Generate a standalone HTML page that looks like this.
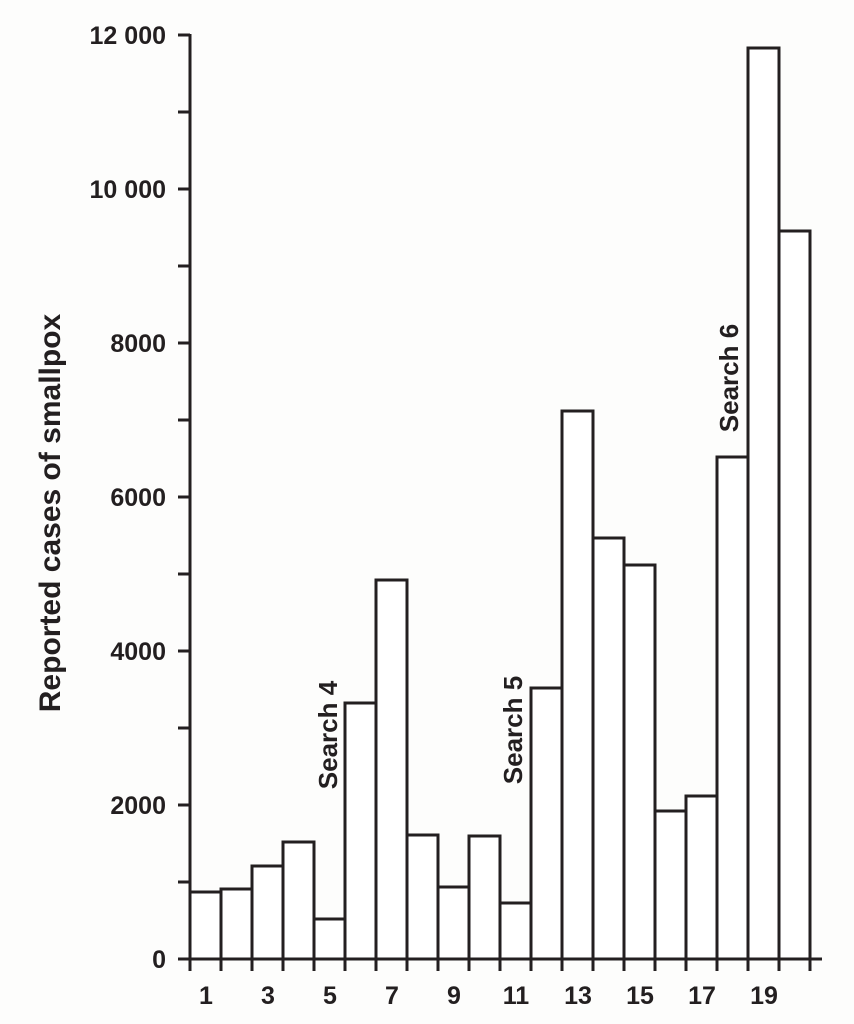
<!DOCTYPE html>
<html><head><meta charset="utf-8"><style>
html,body{margin:0;padding:0;background:#fff;}
svg{display:block;}
text{font-family:"Liberation Sans",sans-serif;fill:#231f20;}
</style></head><body>
<svg width="854" height="1024" viewBox="0 0 854 1024" xmlns="http://www.w3.org/2000/svg">
<rect width="854" height="1024" fill="#fdfdfc"/>
<g stroke="#231f20" stroke-width="3" fill="#fff">
<rect x="190" y="892" width="31" height="67"/>
<rect x="221" y="889" width="31" height="70"/>
<rect x="252" y="866" width="31" height="93"/>
<rect x="283" y="842" width="31" height="117"/>
<rect x="314" y="919" width="31" height="40"/>
<rect x="345" y="703" width="31" height="256"/>
<rect x="376" y="580" width="31" height="379"/>
<rect x="407" y="835" width="31" height="124"/>
<rect x="438" y="887" width="31" height="72"/>
<rect x="469" y="836" width="31" height="123"/>
<rect x="500" y="903" width="31" height="56"/>
<rect x="531" y="688" width="31" height="271"/>
<rect x="562" y="411" width="31" height="548"/>
<rect x="593" y="538" width="31" height="421"/>
<rect x="624" y="565" width="31" height="394"/>
<rect x="655" y="811" width="31" height="148"/>
<rect x="686" y="796" width="31" height="163"/>
<rect x="717" y="457" width="31" height="502"/>
<rect x="748" y="48" width="31" height="911"/>
<rect x="779" y="231" width="31" height="728"/>
</g>
<g stroke="#231f20" stroke-width="3">
<line x1="190" y1="34" x2="190" y2="960"/>
<line x1="178" y1="959" x2="822" y2="959"/>
<line x1="178" y1="35" x2="190" y2="35"/>
<line x1="178" y1="112" x2="190" y2="112"/>
<line x1="178" y1="189" x2="190" y2="189"/>
<line x1="178" y1="266" x2="190" y2="266"/>
<line x1="178" y1="343" x2="190" y2="343"/>
<line x1="178" y1="420" x2="190" y2="420"/>
<line x1="178" y1="497" x2="190" y2="497"/>
<line x1="178" y1="574" x2="190" y2="574"/>
<line x1="178" y1="651" x2="190" y2="651"/>
<line x1="178" y1="728" x2="190" y2="728"/>
<line x1="178" y1="805" x2="190" y2="805"/>
<line x1="178" y1="882" x2="190" y2="882"/>
<line x1="190" y1="959" x2="190" y2="971"/>
<line x1="221" y1="959" x2="221" y2="971"/>
<line x1="252" y1="959" x2="252" y2="971"/>
<line x1="283" y1="959" x2="283" y2="971"/>
<line x1="314" y1="959" x2="314" y2="971"/>
<line x1="345" y1="959" x2="345" y2="971"/>
<line x1="376" y1="959" x2="376" y2="971"/>
<line x1="407" y1="959" x2="407" y2="971"/>
<line x1="438" y1="959" x2="438" y2="971"/>
<line x1="469" y1="959" x2="469" y2="971"/>
<line x1="500" y1="959" x2="500" y2="971"/>
<line x1="531" y1="959" x2="531" y2="971"/>
<line x1="562" y1="959" x2="562" y2="971"/>
<line x1="593" y1="959" x2="593" y2="971"/>
<line x1="624" y1="959" x2="624" y2="971"/>
<line x1="655" y1="959" x2="655" y2="971"/>
<line x1="686" y1="959" x2="686" y2="971"/>
<line x1="717" y1="959" x2="717" y2="971"/>
<line x1="748" y1="959" x2="748" y2="971"/>
<line x1="779" y1="959" x2="779" y2="971"/>
<line x1="810" y1="959" x2="810" y2="971"/>
</g>
<g font-size="25" font-weight="bold" text-anchor="end">
<text x="166" y="44">12 000</text>
<text x="166" y="198">10 000</text>
<text x="166" y="352">8000</text>
<text x="166" y="506">6000</text>
<text x="166" y="660">4000</text>
<text x="166" y="814">2000</text>
<text x="166" y="968">0</text>
</g>
<g font-size="25" font-weight="bold" text-anchor="middle">
<text x="206" y="1004">1</text>
<text x="268" y="1004">3</text>
<text x="330" y="1004">5</text>
<text x="392" y="1004">7</text>
<text x="454" y="1004">9</text>
<text x="516" y="1004">11</text>
<text x="578" y="1004">13</text>
<text x="640" y="1004">15</text>
<text x="702" y="1004">17</text>
<text x="764" y="1004">19</text>
</g>
<text transform="translate(60,513) rotate(-90)" font-size="30" font-weight="bold" text-anchor="middle">Reported cases of smallpox</text>
<g font-size="26" font-weight="bold" text-anchor="middle">
<text transform="translate(337,735) rotate(-90)">Search 4</text>
<text transform="translate(522,730) rotate(-90)">Search 5</text>
<text transform="translate(738,378) rotate(-90)">Search 6</text>
</g>
</svg>
</body></html>
